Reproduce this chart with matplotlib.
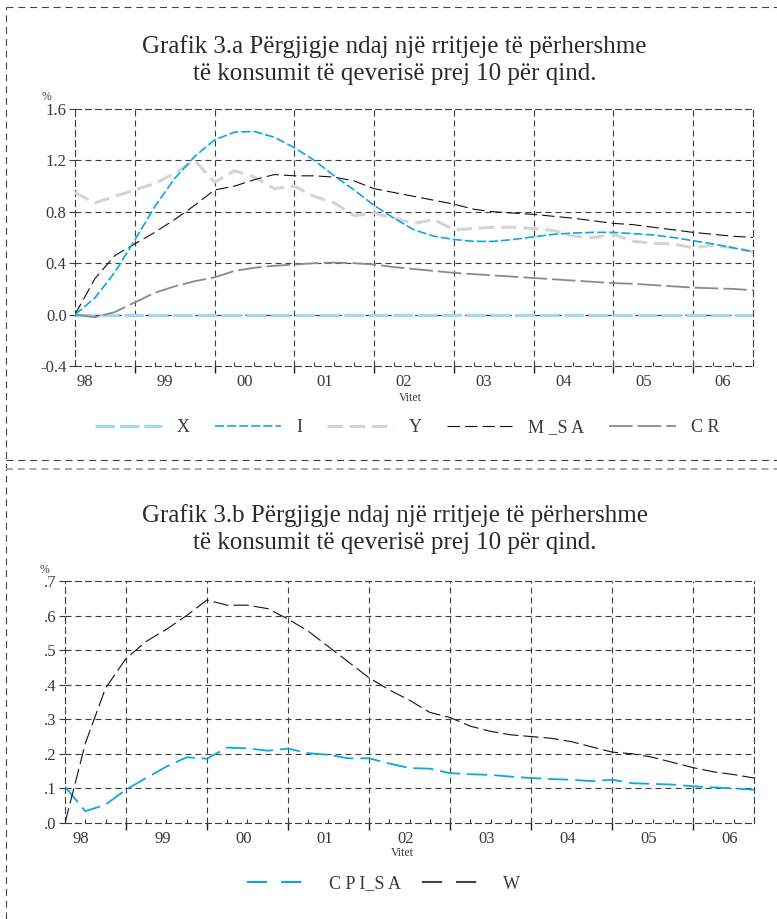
import matplotlib
matplotlib.use("Agg")
import matplotlib.pyplot as plt
from matplotlib.lines import Line2D
import numpy as np

plt.rcParams['font.family'] = ['Liberation Serif', 'DejaVu Serif']
plt.rcParams['lines.scale_dashes'] = False

# ---------------- data (quarterly, 1998Q2 .. 2006Q4) ----------------
year_labels = ["98", "99", "00", "01", "02", "03", "04", "05", "06"]

X = [0.0] * 35
I = [0.0, 0.13, 0.33, 0.58, 0.84, 1.06, 1.23, 1.36, 1.42, 1.425, 1.38, 1.30,
     1.20, 1.08, 0.97, 0.85, 0.75, 0.66, 0.61, 0.585, 0.57, 0.57, 0.585, 0.605,
     0.625, 0.635, 0.64, 0.64, 0.63, 0.62, 0.60, 0.575, 0.55, 0.52, 0.49]
Y = [0.95, 0.87, 0.92, 0.97, 1.02, 1.10, 1.20, 1.03, 1.12, 1.07, 0.98, 1.00,
     0.92, 0.87, 0.77, 0.79, 0.75, 0.71, 0.74, 0.66, 0.67, 0.68, 0.68, 0.67,
     0.655, 0.61, 0.60, 0.625, 0.57, 0.555, 0.55, 0.52, 0.54, 0.52, 0.49]
M_SA = [0.0, 0.28, 0.46, 0.55, 0.64, 0.74, 0.85, 0.97, 1.00, 1.05, 1.09, 1.08,
        1.08, 1.07, 1.04, 0.98, 0.95, 0.92, 0.89, 0.86, 0.82, 0.80, 0.79, 0.78,
        0.765, 0.75, 0.73, 0.71, 0.70, 0.68, 0.66, 0.64, 0.625, 0.61, 0.60]
CR = [0.0, -0.02, 0.02, 0.095, 0.17, 0.22, 0.26, 0.29, 0.34, 0.365, 0.38, 0.39,
      0.40, 0.405, 0.40, 0.39, 0.37, 0.355, 0.34, 0.325, 0.315, 0.305, 0.295, 0.285,
      0.275, 0.265, 0.255, 0.245, 0.24, 0.23, 0.22, 0.21, 0.205, 0.20, 0.19]

CPI_SA = [0.105, 0.034, 0.053, 0.096, 0.13, 0.163, 0.19, 0.186, 0.218, 0.216, 0.209, 0.215,
          0.202, 0.197, 0.187, 0.187, 0.172, 0.159, 0.157, 0.144, 0.141, 0.139, 0.134, 0.13,
          0.127, 0.125, 0.121, 0.125, 0.115, 0.113, 0.111, 0.106, 0.103, 0.10, 0.096]
W = [0.0, 0.23, 0.39, 0.475, 0.525, 0.56, 0.60, 0.645, 0.63, 0.63, 0.62, 0.59,
     0.555, 0.51, 0.465, 0.42, 0.385, 0.355, 0.32, 0.305, 0.28, 0.265, 0.255, 0.25,
     0.245, 0.235, 0.22, 0.205, 0.20, 0.19, 0.175, 0.16, 0.148, 0.14, 0.13]

yticks_a = [-0.4, 0.0, 0.4, 0.8, 1.2, 1.6]
ytick_labels_a = ["-0.4", "0.0", "0.4", "0.8", "1.2", "1.6"]
yticks_b = [0.0, 0.1, 0.2, 0.3, 0.4, 0.5, 0.6, 0.7]
ytick_labels_b = [".0", ".1", ".2", ".3", ".4", ".5", ".6", ".7"]

title_a = "Grafik 3.a Përgjigje ndaj një rritjeje të përhershme\ntë konsumit të qeverisë prej 10 për qind."
title_b = "Grafik 3.b Përgjigje ndaj një rritjeje të përhershme\ntë konsumit të qeverisë prej 10 për qind."

q = np.arange(len(I))
year_bounds = np.arange(3, 34, 4)

TXT = '#3a3a3a'
GRID = '#3c3c3c'
grid_dash = (0, (4.3, 2.9))

fig = plt.figure(figsize=(7.77, 9.19), dpi=100)

def style_axes(ax, yticks, ylabels, label_offset):
    ax.set_xlim(0, 34)
    ax.set_yticks(yticks)
    ax.set_yticklabels(ylabels)
    ax.set_ylim(yticks[0], yticks[-1])
    for s in ax.spines.values():
        s.set_linestyle(grid_dash)
        s.set_color(GRID)
        s.set_linewidth(0.8)
    ax.grid(False)
    for yv in yticks[1:-1]:
        ax.axhline(yv, color=GRID, lw=0.8, ls=grid_dash, zorder=1)
    for xv in year_bounds:
        ax.axvline(xv, color=GRID, lw=0.8, ls=grid_dash, zorder=1)
    # year labels
    ax.set_xticks([label_offset + 4 * k for k in range(len(year_labels))])
    ax.set_xticklabels(year_labels)
    ax.tick_params(axis='x', which='major', length=0, pad=6, labelsize=12, labelcolor=TXT)
    ax.set_xticks(q, minor=True)
    ax.tick_params(axis='x', which='minor', direction='in', length=3, width=0.8, color=GRID)
    ax.tick_params(axis='y', which='major', direction='out', length=4, width=0.8,
                   color=GRID, labelsize=12, labelcolor=TXT, pad=2)
    sec = ax.secondary_xaxis('bottom')
    sec.set_xticks(year_bounds)
    sec.tick_params(direction='out', length=5, width=1.0, color='#222222', labelbottom=False)
    sec.spines['bottom'].set_visible(False)

# ---------------- panel a ----------------
ax1 = fig.add_axes([0.0965, 0.6017, 0.8725, 0.2797])
style_axes(ax1, yticks_a, ytick_labels_a, 0.5)
ax1.axhline(0.0, color=GRID, lw=0.8, ls=grid_dash, zorder=1)
hX, = ax1.plot(q, X, color='#a3d9f3', lw=2.4, ls=(0, (14, 3.6)), zorder=3, label='X')
hI, = ax1.plot(q, I, color='#0aa8e6', lw=1.2, ls=(0, (6.5, 2.2)), zorder=6, label='I')
hY, = ax1.plot(q, Y, color='#d4d4d4', lw=2.2, ls=(0, (11, 5)), zorder=4, label='Y')
hM, = ax1.plot(q, M_SA, color='#111111', lw=0.8, ls=(0, (9, 3.6)), zorder=5, label='M _S A')
hC, = ax1.plot(q, CR, color='#8a8a8a', lw=1.3, ls=(0, (17, 3.6)), zorder=5, label='C R')
ax1.text(-0.042, 1.025, "%", transform=ax1.transAxes, fontsize=8.5, color=TXT, ha='center', va='bottom')
ax1.text(0.495, -0.10, "Vitet", transform=ax1.transAxes, fontsize=8.5, color=TXT, ha='center', va='top')

fig.legend(handles=[hX, hI, hY, hM, hC], loc='center', bbox_to_anchor=(0.524, 0.535),
           ncol=5, frameon=False, fontsize=13, handlelength=3.7, handletextpad=0.8,
           columnspacing=1.4, labelcolor=TXT)

fig.text(0.508, 0.935, title_a, ha='center', va='center', fontsize=18, color='#2a2a2a',
         linespacing=1.3)

# ---------------- panel b ----------------
ax2 = fig.add_axes([0.0837, 0.1045, 0.8867, 0.2633])
style_axes(ax2, yticks_b, ytick_labels_b, 0.8)
hP, = ax2.plot(q, CPI_SA, color='#0aa8e6', lw=1.3, ls=(0, (14.5, 5)), zorder=5, label='C P I_S A')
hW, = ax2.plot(q, W, color='#111111', lw=0.8, ls=(0, (11, 3.6)), zorder=5, label='W')
ax2.text(-0.03, 1.02, "%", transform=ax2.transAxes, fontsize=8.5, color=TXT, ha='center', va='bottom')
ax2.text(0.49, -0.10, "Vitet", transform=ax2.transAxes, fontsize=8.5, color=TXT, ha='center', va='top')

legW = Line2D([], [], color='#444444', lw=1.5, ls=(0, (14.5, 10)))
legP = Line2D([], [], color='#0aa8e6', lw=1.5, ls=(0, (14.5, 10)))
fig.legend(handles=[legP, legW], labels=['C P I_S A', 'W'], loc='center',
           bbox_to_anchor=(0.494, 0.038), ncol=2, frameon=False, fontsize=13,
           handlelength=3.5, handletextpad=1.0, columnspacing=1.2, labelcolor=TXT)

fig.text(0.508, 0.424, title_b, ha='center', va='center', fontsize=18, color='#2a2a2a',
         linespacing=1.3)

# ---------------- dashed page frame ----------------
frame_dash = (0, (5, 3.5))
fig.add_artist(Line2D([0.0077, 0.0077], [0.0, 0.992], transform=fig.transFigure,
                      color='#444444', lw=0.8, ls=frame_dash))
fig.add_artist(Line2D([0.0077, 1.0], [0.992, 0.992], transform=fig.transFigure,
                      color='#444444', lw=0.8, ls=frame_dash))
fig.add_artist(Line2D([0.0077, 1.0], [0.4995, 0.4995], transform=fig.transFigure,
                      color='#444444', lw=0.8, ls=frame_dash))
fig.add_artist(Line2D([0.0077, 1.0], [0.4897, 0.4897], transform=fig.transFigure,
                      color='#999999', lw=1.2, ls=frame_dash))

fig.savefig("out.png", dpi=100)
